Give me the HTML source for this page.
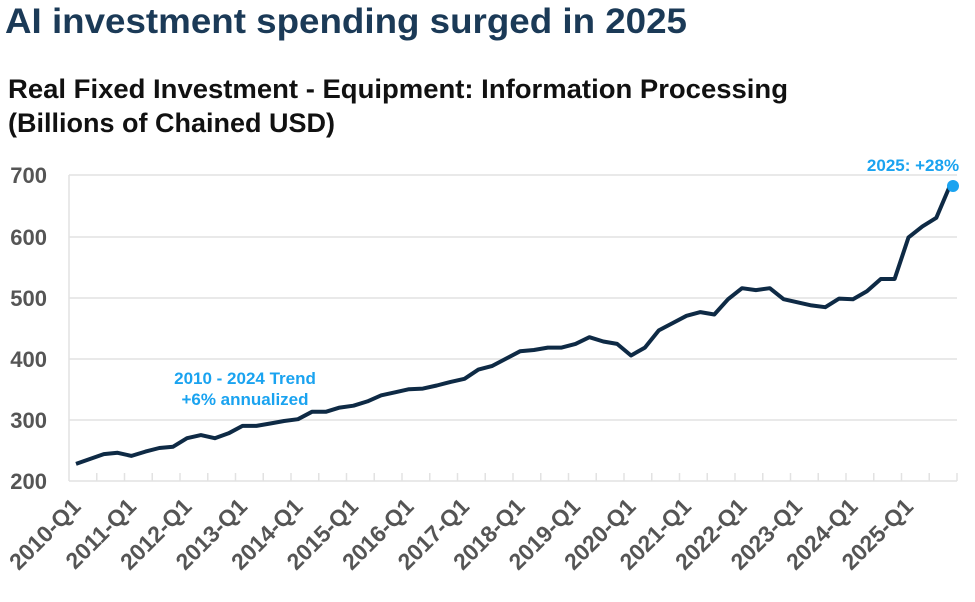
<!DOCTYPE html>
<html><head><meta charset="utf-8"><style>
body{margin:0;background:#fff;width:975px;height:597px;overflow:hidden;font-family:"Liberation Sans",Arial,sans-serif}
</style></head><body>
<svg width="975" height="597" xmlns="http://www.w3.org/2000/svg" style="font-family:'Liberation Sans',Arial,sans-serif">
<text x="5" y="33" font-size="35" font-weight="bold" fill="#1b3a57" textLength="682" lengthAdjust="spacingAndGlyphs">AI investment spending surged in 2025</text>
<text x="8" y="98" font-size="27" font-weight="bold" fill="#111" textLength="780" lengthAdjust="spacingAndGlyphs">Real Fixed Investment - Equipment: Information Processing</text>
<text x="8" y="132" font-size="27" font-weight="bold" fill="#111">(Billions of Chained USD)</text>
<g stroke="#e2e2e2" stroke-width="1.5">
<line x1="69" y1="175" x2="957" y2="175"/><line x1="69" y1="237" x2="957" y2="237"/>
<line x1="69" y1="298" x2="957" y2="298"/><line x1="69" y1="359" x2="957" y2="359"/>
<line x1="69" y1="420" x2="957" y2="420"/><line x1="69" y1="481" x2="957" y2="481"/>
<line x1="69" y1="175" x2="69" y2="481"/>
</g>
<g id="ticks" stroke="#e2e2e2" stroke-width="1.5"></g>
<g font-size="22" font-weight="bold" fill="#555" text-anchor="end">
<text x="47" y="183">700</text><text x="47" y="245">600</text><text x="47" y="306">500</text>
<text x="47" y="367">400</text><text x="47" y="428">300</text><text x="47" y="489">200</text>
</g>
<g id="xl" font-size="23" font-weight="bold" fill="#555" text-anchor="end"></g>
<polyline id="ln" fill="none" stroke="#0e2a45" stroke-width="4" stroke-linejoin="round"/>
<circle cx="953" cy="186" r="6" fill="#1aa3f0"/>
<text x="913" y="171" font-size="17" font-weight="bold" fill="#1aa3f0" text-anchor="middle">2025: +28%</text>
<text x="245" y="384" font-size="17" font-weight="bold" fill="#1aa3f0" text-anchor="middle">2010 - 2024 Trend</text>
<text x="245" y="405" font-size="17" font-weight="bold" fill="#1aa3f0" text-anchor="middle">+6% annualized</text>
</svg>
<script>
var d=[228,236,244,246,241,248,254,256,270,275,270,278,290,290,294,298,301,313,313,320,323,330,340,345,350,351,356,362,367,382,388,400,412,414,418,418,424,435,428,424,405,418,446,458,470,476,472,497,515,512,515,497,492,487,484,498,497,510,530,530,598,616,630,683];
var ns="http://www.w3.org/2000/svg";
var pts=d.map(function(v,i){return (76+i*13.875).toFixed(1)+","+(481-(v-200)*0.612).toFixed(1)}).join(" ");
document.getElementById("ln").setAttribute("points",pts);
var tg=document.getElementById("ticks");
for(var k=1;k<=32;k++){var x=69+k*27.75;var l=document.createElementNS(ns,"line");l.setAttribute("x1",x);l.setAttribute("x2",x);l.setAttribute("y1",473);l.setAttribute("y2",481);tg.appendChild(l);}
var xl=document.getElementById("xl");
for(var y=0;y<16;y++){var x=76+y*4*13.875+6;var t=document.createElementNS(ns,"text");t.setAttribute("x",x);t.setAttribute("y",508);t.setAttribute("transform","rotate(-45 "+x+" 508)");t.textContent=(2010+y)+"-Q1";xl.appendChild(t);}
</script>
</body></html>
